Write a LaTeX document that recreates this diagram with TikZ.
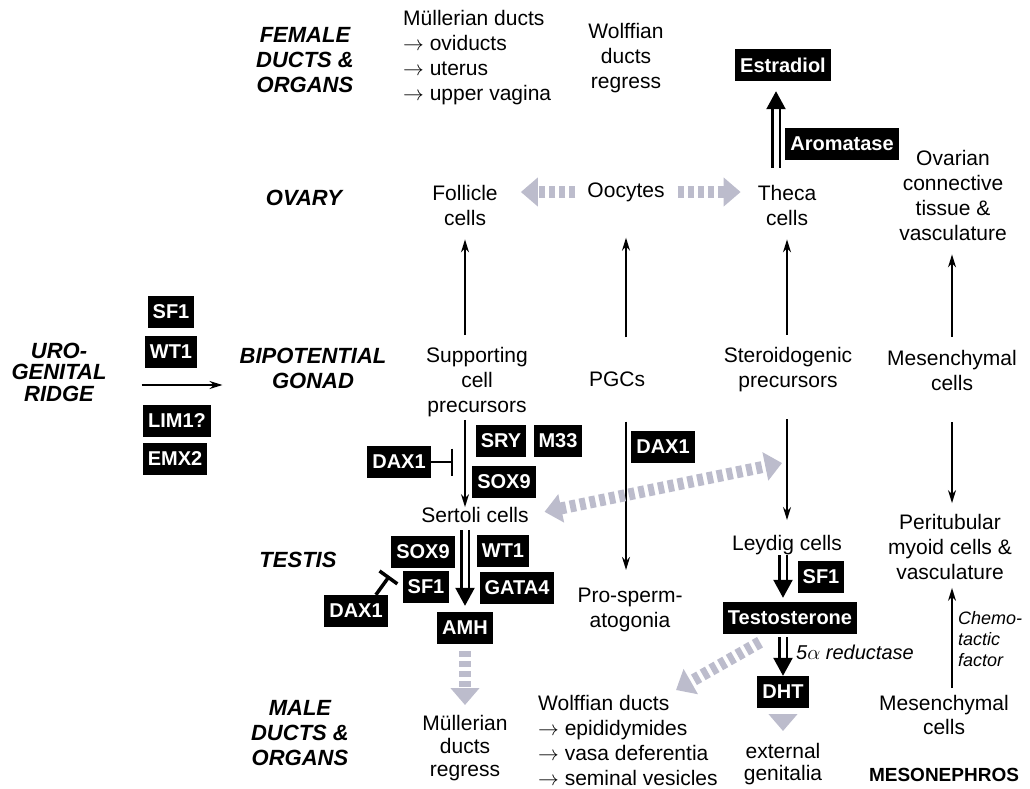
\documentclass[tikz,border=0pt]{standalone}
\usepackage{fontspec}
\setmainfont{Liberation Sans}
\usetikzlibrary{arrows.meta}
\definecolor{grayA}{RGB}{188,188,204}
\tikzset{
 txt/.style={font=\fontsize{21}{25}\selectfont, align=center, inner sep=0pt},
 hd/.style={font=\fontsize{22}{25}\selectfont\bfseries\itshape, align=center, inner sep=0pt},
 bx/.style={fill=black, text=white, font=\fontsize{20}{22}\selectfont\bfseries, inner xsep=5pt, inner ysep=0pt, minimum height=32pt},
 arr/.style={line width=1.6pt, -{Stealth[length=13pt,width=8pt]}},
 dbl/.style={line width=2.3pt, double=white, double distance=5pt, -{Triangle[length=18pt,width=19pt]}},
 gra/.style={draw=grayA, line width=12pt, dash pattern=on 6pt off 4pt, -{Triangle[length=17pt,width=28pt,color=grayA]}},
 gra2/.style={draw=grayA, line width=12pt, dash pattern=on 6pt off 4pt, {Triangle[length=17pt,width=28pt,color=grayA]}-{Triangle[length=17pt,width=28pt,color=grayA]}},
 inh/.style={line width=1.6pt, -{Bar[width=27pt]}},
}
\begin{document}
\begin{tikzpicture}[x=1pt,y=-1pt]
\useasboundingbox (0,0) rectangle (1030,788);
\fill[white] (0,0) rectangle (1030,788);
% headings
\node[hd] (hfem) at (305,60) {FEMALE\\DUCTS \&\\ORGANS};
\node[hd] (hov) at (304,198) {OVARY};
\node[hd, font=\fontsize{22}{21.5}\selectfont\bfseries\itshape] (huro) at (59,372) {URO-\\GENITAL\\RIDGE};
\node[hd] (hbip) at (313,368) {BIPOTENTIAL\\GONAD};
\node[hd] (htes) at (298,560) {TESTIS};
\node[hd] (hmale) at (300,733) {MALE\\DUCTS \&\\ORGANS};
% black boxes
\node[bx] (sfa) at (171,312) {SF1};
\node[bx] (wta) at (171,352) {WT1};
\node[bx] (lim) at (177,421) {LIM1?};
\node[bx] (emx) at (175,459) {EMX2};
\node[bx] (estr) at (783,65) {Estradiol};
\node[bx] (arom) at (842,144) {Aromatase};
\node[bx] (sry) at (501,441) {SRY};
\node[bx] (m33) at (558,441) {M33};
\node[bx] (soxa) at (504,482) {SOX9};
\node[bx] (daxa) at (399,462) {DAX1};
\node[bx] (daxb) at (663,447) {DAX1};
\node[bx] (soxb) at (423,552) {SOX9};
\node[bx] (wtb) at (503,551) {WT1};
\node[bx] (sfb) at (426,587) {SF1};
\node[bx] (gata) at (517,588) {GATA4};
\node[bx] (amh) at (465,628) {AMH};
\node[bx] (daxc) at (356,611) {DAX1};
\node[bx] (sfc) at (821,577) {SF1};
\node[bx] (testo) at (790,618) {Testosterone};
\node[bx] (dht) at (783,692) {DHT};
% texts
\node[txt, align=left, anchor=west] (mula) at (403,58) {Müllerian ducts\\$\rightarrow$ oviducts\\$\rightarrow$ uterus\\$\rightarrow$ upper vagina};
\node[txt] (wolfa) at (626,58) {Wolffian\\ducts\\regress};
\node[txt] (foll) at (465,205) {Follicle\\cells};
\node[txt] (ooc) at (626,192) {Oocytes};
\node[txt] (theca) at (787,205) {Theca\\cells};
\node[txt] (ovct) at (953,195) {Ovarian\\connective\\tissue \&\\vasculature};
\node[txt] (supp) at (477,382) {Supporting\\cell\\precursors};
\node[txt] (pgc) at (617,379) {PGCs};
\node[txt] (ster) at (788,370) {Steroidogenic\\precursors};
\node[txt] (mesa) at (952,370) {Mesenchymal\\cells};
\node[txt] (sert) at (475,515) {Sertoli cells};
\node[txt] (pros) at (630,610) {Pro-sperm-\\atogonia};
\node[txt] (leyd) at (787,545) {Leydig cells};
\node[txt] (peri) at (950,547) {Peritubular\\myoid cells \&\\vasculature};
\node[txt, font=\fontsize{21}{24}\selectfont] (mesb) at (944,715) {Mesenchymal\\cells};
\node[txt, font=\fontsize{21}{23}\selectfont] (mulb) at (465,748) {Müllerian\\ducts\\regress};
\node[txt, align=left, anchor=west] (wolfb) at (538,740) {Wolffian ducts\\$\rightarrow$ epididymides\\$\rightarrow$ vasa deferentia\\$\rightarrow$ seminal vesicles};
\node[txt, font=\fontsize{21}{22}\selectfont] (ext) at (783,764) {external\\genitalia};
\node[font=\fontsize{19}{22}\selectfont\bfseries, inner sep=0pt] (meso) at (944,775) {MESONEPHROS};
\node[font=\fontsize{18}{21}\selectfont\itshape, align=left, anchor=west, inner sep=0pt] (chemo) at (958,639) {Chemo-\\tactic\\factor};
\node[font=\fontsize{20}{22}\selectfont\itshape, anchor=west, inner sep=0pt] (red) at (796,652) {5$\alpha$ reductase};
\coordinate (wtip) at (676,690);
\coordinate (ltip) at (782,463);
% up arrows
\draw[arr, shorten <=12pt, shorten >=14pt] (supp.north -| foll.south) -- (foll.south);
\draw[arr, shorten <=34pt, shorten >=36pt] (pgc.north -| ooc.south) -- (ooc.south);
\draw[arr, shorten <=13pt, shorten >=14pt] (ster.north -| theca.south) -- (theca.south);
\draw[arr, shorten <=13pt, shorten >=14pt] (mesa.north) -- (mesa.north |- ovct.south);
% down arrows
\draw[arr, shorten <=3pt] (supp.south -| foll.south) -- (sert.north -| foll.south);
\draw[arr, shorten <=35pt, shorten >=18pt] (pgc.south -| ooc.south) -- (pros.north -| ooc.south);
\draw[arr, shorten <=27pt, shorten >=15pt] (ster.south -| theca.south) -- (leyd.north -| theca.south);
\draw[arr, shorten <=32pt, shorten >=11pt] (mesa.south) -- (mesa.south |- peri.north);
\draw[arr, shorten <=7pt, shorten >=8pt] (mesb.north -| mesa.south) -- (peri.south -| mesa.south);
\draw[arr, shorten <=35pt, shorten >=17pt] ([yshift=-13pt]huro.east) -- ([yshift=-17pt]hbip.west);
% inhibitions
\draw[inh, shorten >=12pt] (daxa.east) -- (daxa.east -| foll.south);
\draw[line width=3.5pt, -{Bar[width=22pt]}] ([xshift=-12pt]daxc.north east) -- ([xshift=-13pt,yshift=11pt]sfb.west);
% hollow arrows
\draw[dbl, shorten <=17pt, shorten >=10pt] ([xshift=-11pt]theca.north) -- ([xshift=-7pt]estr.south);
\draw[dbl, shorten <=7pt, shorten >=6pt] (sert.south -| amh.north) -- (amh.north);
\draw[dbl, shorten >=4pt] (leyd.south -| dht.north) -- (testo.north -| dht.north);
\draw[dbl, shorten <=3pt] (testo.south -| dht.north) -- (dht.north);
% gray arrows
\draw[gra, shorten <=12pt, shorten >=23pt] (ooc.west) -- (ooc.west -| foll.east);
\draw[gra, shorten <=13pt, shorten >=17pt] (ooc.east) -- (ooc.east -| theca.west);
\draw[gra, shorten <=7pt, shorten >=10pt] (amh.south) -- (mulb.north);
\draw[gra, shorten <=6pt, shorten >=12pt] (dht.south) -- (ext.north);
\draw[gra] ([xshift=-30pt,yshift=-8pt]testo.south) -- (wtip);
\draw[gra2, shorten <=16pt] (sert.east) -- (ltip);
\end{tikzpicture}
\end{document}
